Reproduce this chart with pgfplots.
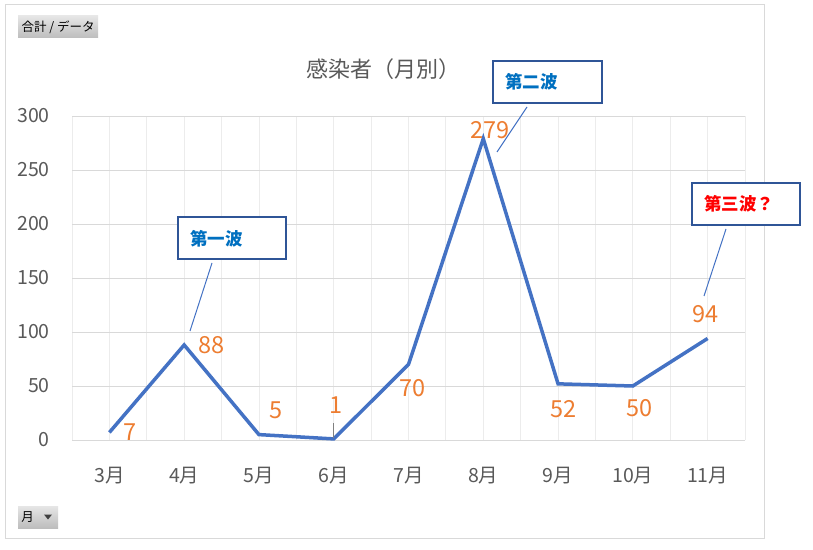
\documentclass[border=0pt]{standalone}
\usepackage{pgfplots}
\pgfplotsset{compat=1.18}
\usepackage{pgfplotstable}
\usepackage{fontspec}
\setmainfont{Noto Sans CJK JP}
\definecolor{lineblue}{HTML}{4472C4}
\definecolor{lblorange}{HTML}{ED7D31}
\definecolor{txtgray}{HTML}{595959}
\definecolor{gridgray}{HTML}{D9D9D9}
\definecolor{vgridgray}{HTML}{ECECEC}
\definecolor{boxblue}{HTML}{2F5597}
\definecolor{calloutblue}{HTML}{0070C0}
\definecolor{btntop}{HTML}{E6E6E6}
\definecolor{btnbot}{HTML}{BDBDBD}

\pgfplotstableread{
x y dx dy
0 7 21 0
1 88 27 0
2 5 17 24
3 1 2 34
4 70 4 -24
5 279 7 9
6 52 5 -25
7 50 7 -22
8 94 -2 24
}\cases

\begin{document}
\begin{tikzpicture}[x=1pt,y=1pt]
\path[use as bounding box] (0,0) rectangle (813,549);
\fill[white] (0,0) rectangle (813,549);
\draw[gridgray, line width=1pt] (5,11) rectangle (764,544);

\begin{axis}[
  at={(72pt,109pt)}, anchor=south west,
  scale only axis, width=673pt, height=324pt,
  xmin=-0.5, xmax=8.5, ymin=0, ymax=300,
  xtick={0,...,8},
  xticklabels={3月,4月,5月,6月,7月,8月,9月,10月,11月},
  minor xtick={-0.5,0.5,...,8.5},
  ytick={0,50,...,300},
  xmajorgrids, xminorgrids, ymajorgrids,
  major x grid style={vgridgray, line width=0.8pt},
  minor x grid style={vgridgray, line width=0.8pt},
  major y grid style={gridgray, line width=1pt},
  axis line style={draw=none},
  tick style={draw=none},
  /pgf/number format/assume math mode=true,
  ticklabel style={font=\fontsize{19.5}{22}\selectfont, text=txtgray},
  yticklabel style={anchor=east, inner sep=0pt, xshift=-22pt},
  xticklabel style={anchor=center, inner sep=0pt, yshift=-36pt},
  clip=false,
]
\addplot[lineblue, line width=3.5pt, line join=miter, mark=none,
  nodes near coords,
  visualization depends on={\thisrow{dx}\as\dx},
  visualization depends on={\thisrow{dy}\as\dy},
  every node near coord/.append style={anchor=center, inner sep=0pt,
    xshift=\dx pt, yshift=\dy pt, text=lblorange,
    font=\fontsize{23.5}{26}\selectfont}
] table[x=x, y=y] {\cases};
\draw[gray, line width=0.6pt] (axis cs:3,1) ++(0pt,1pt) -- ++(0pt,15pt);
\end{axis}

% title
\node[text=txtgray, font=\fontsize{22}{25}\selectfont] at (383,480) {感染者（月別）};

% callouts
\draw[boxblue, line width=1.6pt, fill=white] (178,290) rectangle (286,332);
\node[anchor=west, inner sep=0pt, text=calloutblue, font=\fontsize{17.5}{20}\selectfont\bfseries] at (190,310) {第一波};
\draw[lineblue, line width=1pt] (212,286) -- (190,218);

\draw[boxblue, line width=1.6pt, fill=white] (493,446) rectangle (602,488);
\node[anchor=west, inner sep=0pt, text=calloutblue, font=\fontsize{17.5}{20}\selectfont\bfseries] at (505,467) {第二波};
\draw[lineblue, line width=1pt] (527,442) -- (497,397);

\draw[boxblue, line width=1.6pt, fill=white] (692,324) rectangle (800,366);
\node[anchor=west, inner sep=0pt, text=red, font=\fontsize{17.5}{20}\selectfont\bfseries] at (704,345) {第三波？};
\draw[lineblue, line width=1pt] (726,320) -- (704,253);

% buttons
\shade[top color=btntop, bottom color=btnbot] (18,511) rectangle (98,533);
\node[text=black, font=\fontsize{12.5}{14}\selectfont] at (58,522) {合計 / データ};
\shade[top color=btntop, bottom color=btnbot] (18,21) rectangle (58,43);
\node[text=black, font=\fontsize{12.5}{14}\selectfont] at (27.5,32) {月};
\fill[black!75] (44,34.5) -- (52,34.5) -- (48,29.5) -- cycle;
\end{tikzpicture}
\end{document}
